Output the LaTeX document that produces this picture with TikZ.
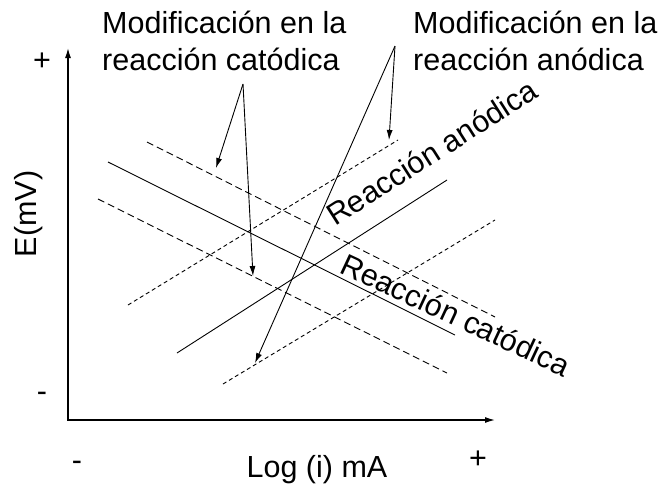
\documentclass[tikz,border=0pt]{standalone}
\usepackage{fontspec}
\setmainfont{Liberation Sans}
\usetikzlibrary{arrows.meta}
\begin{document}
\begin{tikzpicture}[x=1pt,y=-1pt,
  lbl/.style={inner sep=0pt, font=\fontsize{30.5}{37}\selectfont},
  axisln/.style={line width=1.3pt, {Latex[length=10pt,width=6pt]}-{Latex[length=10pt,width=6pt]}},
  cath/.style={line width=0.9pt, dash pattern=on 7pt off 4pt},
  anod/.style={line width=0.9pt, dash pattern=on 4pt off 3pt},
  solidln/.style={line width=0.9pt},
  pointer/.style={line width=0.9pt, -{Latex[length=10pt,width=6pt]}}]
\useasboundingbox[fill=white] (0,0) rectangle (662,485);

% axes
\coordinate (ytip) at (68,48);
\coordinate (xtip) at (495,420);
\draw[axisln] (ytip) |- (xtip);

% cathodic lines
\coordinate (c1a) at (147,142); \coordinate (c1b) at (495,317);
\coordinate (c2a) at (108,162); \coordinate (c2b) at (455,335);
\coordinate (c3a) at (98,199);  \coordinate (c3b) at (447,373);
\draw[cath] (c1a) -- (c1b);
\draw[solidln] (c2a) -- (c2b);
\draw[cath] (c3a) -- (c3b);

% anodic lines
\coordinate (a1a) at (128,305); \coordinate (a1b) at (398,140);
\coordinate (a2a) at (177,353); \coordinate (a2b) at (447,180);
\coordinate (a3a) at (223,384); \coordinate (a3b) at (495,220);
\draw[anod] (a1a) -- (a1b);
\draw[solidln] (a2a) -- (a2b);
\draw[anod] (a3a) -- (a3b);

% labels
\node[lbl, anchor=base west] (cl1) at (102,33) {Modificación en la};
\node[lbl, anchor=base west] (cl2) at (102,70) {reacción catódica};
\node[lbl, anchor=base west] (al1) at (413,33) {Modificación en la};
\node[lbl, anchor=base west] (al2) at (413,70) {reacción anódica};

\node[lbl, anchor=base] (yplus) at (42,70) {+};
\node[lbl, anchor=base] (yminus) at (42,401) {-};
\node[lbl, anchor=base] (xminus) at (77,470) {-};
\node[lbl, anchor=base] (xplus) at (478,468) {+};
\node[lbl, anchor=base] (xlab) at (317,477) {Log (i) mA};
\node[lbl, rotate=90] (ylab) at (29,214) {E(mV)};

\node[lbl, anchor=base west, rotate=32.5] (ran) at (335,227) {Reacción anódica};
\node[lbl, anchor=base west, rotate=-25] (rca) at (338,272) {Reacción catódica};

% pointers
\coordinate (cp) at (243,84);
\coordinate (ap) at (395,46);
\coordinate (cpt1) at (216,168);
\coordinate (cpt2) at (253,276);
\coordinate (apt1) at (389,140);
\coordinate (apt2) at (255,363);
\draw[pointer] (cp) -- (cpt1);
\draw[pointer] (cp) -- (cpt2);
\draw[pointer] (ap) -- (apt1);
\draw[pointer] (ap) -- (apt2);
\end{tikzpicture}
\end{document}
